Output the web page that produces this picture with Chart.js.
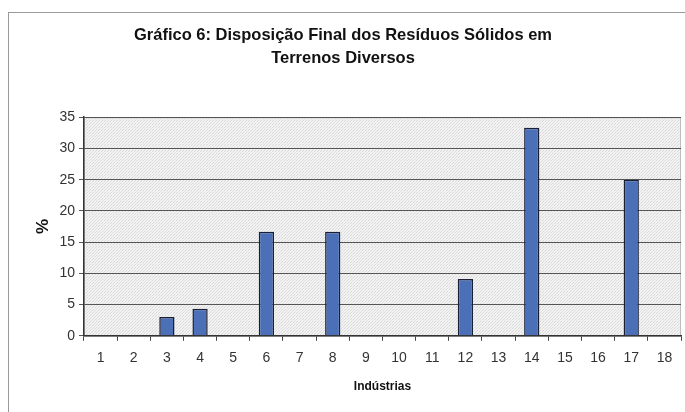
<!DOCTYPE html>
<html>
<head>
<meta charset="utf-8">
<script src="https://cdn.jsdelivr.net/npm/chart.js@4"></script>
<style>
  html, body { margin: 0; padding: 0; background: #ffffff; }
  #wrap { width: 685px; height: 412px; position: relative; }
</style>
</head>
<body>
<div id="wrap"><canvas id="c" width="685" height="412"></canvas></div>
<script>
// Indústrias (1..18) and share of waste sent to miscellaneous land (%)
const industrias = ['1','2','3','4','5','6','7','8','9','10','11','12','13','14','15','16','17','18'];
const percentuais = [0, 0, 3.03, 4.35, 0, 16.67, 0, 16.67, 0, 0, 0, 9.09, 0, 33.33, 0, 0, 25, 0];
const yTicks = [0, 5, 10, 15, 20, 25, 30, 35];

const FONT = "'Liberation Sans', Arial, sans-serif";

// Fine dotted fill for the plot area
function makePattern(ctx) {
  const p = document.createElement('canvas');
  p.width = 3; p.height = 3;
  const g = p.getContext('2d');
  g.fillStyle = '#f2f2f2';
  g.fillRect(0, 0, 3, 3);
  g.fillStyle = '#d9d9d9';
  g.fillRect(0, 0, 1, 1);
  g.fillRect(2, 1, 1, 1);
  g.fillStyle = '#e4e4e4';
  g.fillRect(1, 2, 1, 1);
  return ctx.createPattern(p, 'repeat');
}

const frame = {
  id: 'frame',
  beforeDraw(chart) {
    const { ctx, chartArea: a } = chart;
    ctx.save();
    ctx.fillStyle = '#ffffff';
    ctx.fillRect(0, 0, chart.width, chart.height);
    ctx.strokeStyle = '#9a9a9a';
    ctx.lineWidth = 1;
    ctx.strokeRect(8.5, 12.5, chart.width + 10, chart.height + 10);
    ctx.fillStyle = makePattern(ctx);
    ctx.fillRect(a.left, a.top, a.right - a.left, a.bottom - a.top);
    ctx.strokeStyle = '#bdbdbd';
    ctx.strokeRect(a.left + 0.5, a.top + 0.5, a.right - a.left - 1, a.bottom - a.top);
    ctx.restore();
  }
};

new Chart(document.getElementById('c'), {
  type: 'bar',
  data: {
    labels: industrias,
    datasets: [{
      data: percentuais,
      backgroundColor: '#4b70b8',
      borderColor: '#1a1f33',
      borderWidth: 1.5,
      barPercentage: 0.46,
      categoryPercentage: 1.0
    }]
  },
  options: {
    responsive: false,
    animation: false,
    devicePixelRatio: 1,
    layout: { padding: { left: 5, right: 4, top: 24, bottom: 18 } },
    plugins: {
      legend: { display: false },
      tooltip: { enabled: false },
      title: {
        display: true,
        text: ['Gráfico 6: Disposição Final dos Resíduos Sólidos em', 'Terrenos Diversos'],
        color: '#111111',
        font: { family: FONT, size: 16.5, weight: 'bold', lineHeight: 1.4 },
        padding: { top: 0, bottom: 47 }
      }
    },
    scales: {
      x: {
        grid: {
          display: true,
          offset: true,
          drawOnChartArea: false,
          drawTicks: true,
          tickLength: 5,
          color: '#444444',
          lineWidth: 1
        },
        border: { display: true, color: '#333333', width: 1.5 },
        ticks: {
          color: '#333333',
          font: { family: FONT, size: 14 },
          padding: 9,
          maxRotation: 0,
          autoSkip: false
        },
        title: {
          display: true,
          text: 'Indústrias',
          color: '#111111',
          font: { family: FONT, size: 12, weight: 'bold' },
          padding: { top: 4, bottom: 0 }
        }
      },
      y: {
        min: 0,
        max: 35,
        afterBuildTicks(scale) { scale.ticks = yTicks.map(v => ({ value: v })); },
        grid: {
          color: '#555555',
          lineWidth: 1,
          drawTicks: true,
          tickLength: 5
        },
        border: { display: true, color: '#333333', width: 1.5 },
        ticks: {
          color: '#333333',
          font: { family: FONT, size: 14 },
          padding: 4
        },
        title: {
          display: true,
          text: '%',
          color: '#111111',
          font: { family: FONT, size: 17, weight: 'bold' },
          padding: { top: 28, bottom: 2 }
        }
      }
    }
  },
  plugins: [frame]
});
</script>
</body>
</html>
